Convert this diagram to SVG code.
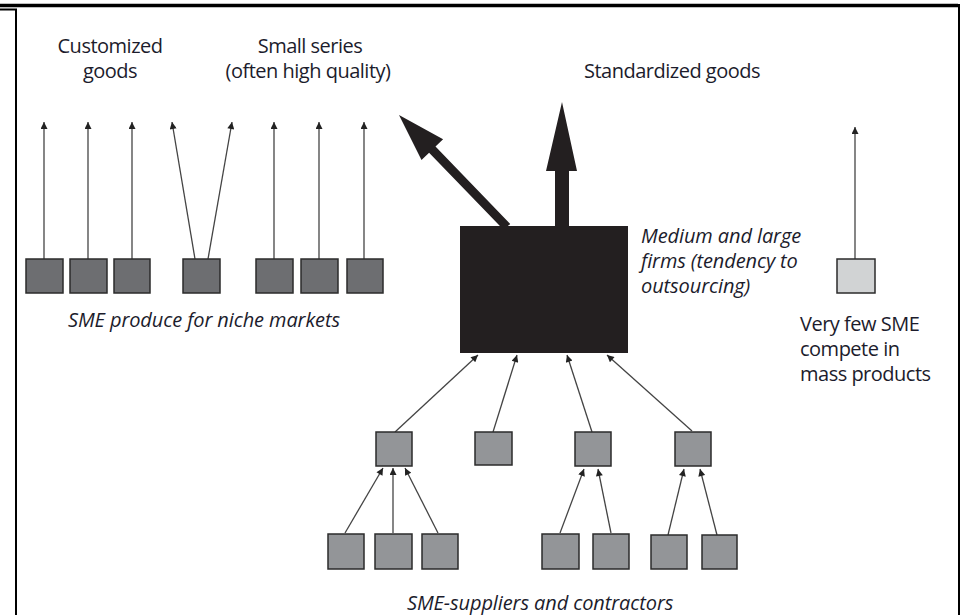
<svg xmlns="http://www.w3.org/2000/svg" width="963" height="615" viewBox="0 0 963 615">
<defs>
<style>
.t{font-family:"Open Sans","Noto Sans","Liberation Sans",sans-serif;font-size:20px;fill:#1c1c2c;letter-spacing:-0.5px}
.i{font-style:italic;letter-spacing:-0.1px}
.dk{fill:#6d6e71;stroke:#2b2b2b;stroke-width:1.5}
.md{fill:#939598;stroke:#2b2b2b;stroke-width:1.5}
.lt{fill:#d1d3d4;stroke:#2b2b2b;stroke-width:1.5}
.c{stroke:#444;stroke-width:1.3;fill:none;marker-end:url(#ah)}
.frame{stroke:#000;fill:none}
</style>
<marker id="ah" viewBox="0 0 10 10" refX="10" refY="5" markerWidth="9" markerHeight="7" markerUnits="userSpaceOnUse" orient="auto">
<path d="M0,0 L10,5 L0,10 Z" fill="#222"/>
</marker>
</defs>
<rect width="963" height="615" fill="#fff"/>
<g id="frame">
<line class="frame" x1="0" y1="5.5" x2="958" y2="5.5" stroke-width="3.5"/>
<polyline class="frame" points="0,9.5 16,9.5 16,615" stroke-width="2"/>
<line class="frame" x1="959" y1="4" x2="959" y2="615" stroke-width="2"/>
</g>
<g id="connectors">
<line class="c" x1="44" y1="259" x2="44" y2="122"/>
<line class="c" x1="88" y1="259" x2="88" y2="122"/>
<line class="c" x1="132" y1="259" x2="132" y2="122"/>
<line class="c" x1="195" y1="259" x2="172" y2="122"/>
<line class="c" x1="208" y1="259" x2="232" y2="122"/>
<line class="c" x1="274" y1="259" x2="274" y2="122"/>
<line class="c" x1="319" y1="259" x2="319" y2="122"/>
<line class="c" x1="364" y1="259" x2="364" y2="122"/>
<line class="c" x1="855" y1="259" x2="855" y2="127"/>
<line class="c" x1="395" y1="432" x2="478" y2="355"/>
<line class="c" x1="493" y1="432" x2="517" y2="355"/>
<line class="c" x1="592" y1="432" x2="567" y2="355"/>
<line class="c" x1="692" y1="431" x2="607" y2="355"/>
<line class="c" x1="345" y1="533" x2="383" y2="468"/>
<line class="c" x1="393" y1="533" x2="393" y2="468"/>
<line class="c" x1="438" y1="533" x2="405" y2="468"/>
<line class="c" x1="560" y1="533" x2="584" y2="469"/>
<line class="c" x1="611" y1="533" x2="598" y2="469"/>
<line class="c" x1="668" y1="535" x2="684" y2="469"/>
<line class="c" x1="717" y1="535" x2="700" y2="469"/>
<polygon fill="#231f20" points="399,115 443.1,139.2 435.5,146.5 510.2,223.9 503.8,230.1 429.1,152.7 421.5,160"/>
<polygon fill="#231f20" points="562,102 577,171 569,171 569,228 555,228 555,171 546,171"/>
</g>
<g id="niche">
<rect id="n1" class="dk" x="26" y="259" width="37" height="34"/>
<rect id="n2" class="dk" x="70" y="259" width="37" height="34"/>
<rect id="n3" class="dk" x="114" y="259" width="36" height="34"/>
<rect id="n4" class="dk" x="183" y="259" width="37" height="34"/>
<rect id="n5" class="dk" x="256" y="259" width="37" height="34"/>
<rect id="n6" class="dk" x="301" y="259" width="37" height="34"/>
<rect id="n7" class="dk" x="347" y="259" width="36" height="34"/>
</g>
<g id="large">
<rect x="460" y="226" width="168" height="127" fill="#231f20"/>
</g>
<g id="mass">
<rect class="lt" x="837" y="259" width="38" height="34"/>
</g>
<g id="suppliers1">
<rect id="sA" class="md" x="376" y="432" width="36" height="34"/>
<rect id="sB" class="md" x="475" y="432" width="37" height="33"/>
<rect id="sC" class="md" x="575" y="432" width="36" height="34"/>
<rect id="sD" class="md" x="675" y="432" width="36" height="34"/>
</g>
<g id="suppliers2">
<rect id="sA1" class="md" x="328" y="534" width="36" height="35"/>
<rect id="sA2" class="md" x="375" y="534" width="37" height="35"/>
<rect id="sA3" class="md" x="422" y="534" width="36" height="35"/>
<rect id="sC1" class="md" x="542" y="534" width="37" height="35"/>
<rect id="sC2" class="md" x="593" y="534" width="36" height="35"/>
<rect id="sD1" class="md" x="651" y="535" width="36" height="34"/>
<rect id="sD2" class="md" x="702" y="535" width="35" height="34"/>
</g>
<g id="labels">
<text class="t" x="110" y="53" text-anchor="middle">Customized</text>
<text class="t" x="110" y="78" text-anchor="middle">goods</text>
<text class="t" x="310" y="53" text-anchor="middle">Small series</text>
<text class="t" x="308" y="78" text-anchor="middle">(often high quality)</text>
<text class="t" x="584" y="78">Standardized goods</text>
<text class="t i" x="641" y="243">Medium and large</text>
<text class="t i" x="641" y="268">firms (tendency to</text>
<text class="t i" x="641" y="293">outsourcing)</text>
<text class="t i" x="68" y="327">SME produce for niche markets</text>
<text class="t" x="800" y="331">Very few SME</text>
<text class="t" x="800" y="356">compete in</text>
<text class="t" x="800" y="381">mass products</text>
<text class="t i" x="407" y="610">SME-suppliers and contractors</text>
</g>
</svg>
